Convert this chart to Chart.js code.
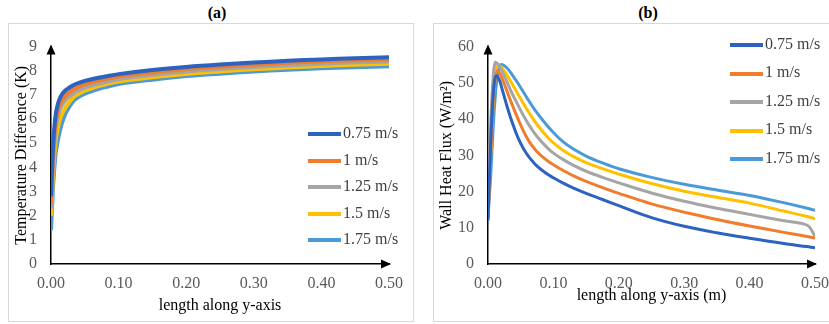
<!DOCTYPE html>
<html>
<head>
<meta charset="utf-8">
<script src="https://cdn.jsdelivr.net/npm/chart.js@4.4.1/dist/chart.umd.min.js"></script>
<style>
  body { margin: 0; width: 829px; height: 324px; overflow: hidden; background: #fff; position: relative; font-family: "Liberation Serif", "DejaVu Serif", serif; }
  .panel { position: absolute; top: 23px; height: 299px; border: 1px solid #d9d9d9; box-sizing: border-box; }
  .ptitle { position: absolute; top: 4px; font-weight: bold; font-size: 16px; color: #000; transform: translateX(-50%); font-family: "Liberation Serif", serif; }
  canvas { position: absolute; top: 23px; }
  .leg { position: absolute; font-size: 16px; color: #404040; white-space: nowrap; line-height: 16px; }
  .leg span { display: inline-block; width: 33px; height: 4px; vertical-align: middle; margin-right: 2px; }
</style>
</head>
<body>
<div class="panel" style="left:8px;width:406px;"></div>
<div class="panel" style="left:433px;width:420px;"></div>
<div class="ptitle" style="left:217px;">(a)</div>
<div class="ptitle" style="left:648px;">(b)</div>
<canvas id="chartA" width="405" height="300" style="left:8px;"></canvas>
<canvas id="chartB" width="410" height="300" style="left:433px;"></canvas>
<div id="legendA"></div>
<div id="legendB"></div>
<script>
var seriesNames = ['0.75 m/s', '1 m/s', '1.25 m/s', '1.5 m/s', '1.75 m/s'];
var seriesColors = ['#2c62c0', '#f07c2c', '#a5a5a5', '#ffc000', '#4a9ad8'];
var xTicks = [0, 0.1, 0.2, 0.3, 0.4, 0.5];

// (a) temperature difference along the wall
var xA = [0, 0.002, 0.004, 0.007, 0.01, 0.013, 0.017, 0.022, 0.027, 0.035, 0.05, 0.065, 0.08, 0.1, 0.15, 0.2, 0.25, 0.3, 0.35, 0.4, 0.45, 0.5];
var tempA_075 = [2.8, 4.2, 5.3, 6.2, 6.6, 6.85, 7.05, 7.2, 7.3, 7.43, 7.58, 7.68, 7.76, 7.86, 8.03, 8.16, 8.26, 8.34, 8.41, 8.47, 8.52, 8.56];
var tempA_100 = [2.5, 3.9, 5.0, 5.9, 6.35, 6.6, 6.8, 6.98, 7.1, 7.26, 7.45, 7.56, 7.65, 7.76, 7.93, 8.07, 8.17, 8.25, 8.33, 8.39, 8.44, 8.48];
var tempA_125 = [2.3, 3.5, 4.6, 5.6, 6.1, 6.4, 6.6, 6.8, 6.93, 7.1, 7.3, 7.43, 7.53, 7.65, 7.83, 7.97, 8.07, 8.16, 8.23, 8.29, 8.35, 8.38];
var tempA_150 = [2.0, 3.1, 4.1, 5.1, 5.6, 5.95, 6.25, 6.5, 6.7, 6.95, 7.18, 7.32, 7.43, 7.55, 7.73, 7.87, 7.97, 8.06, 8.13, 8.2, 8.25, 8.29];
var tempA_175 = [1.4, 2.6, 3.6, 4.6, 5.1, 5.5, 5.9, 6.25, 6.5, 6.8, 7.05, 7.2, 7.32, 7.45, 7.63, 7.78, 7.88, 7.97, 8.04, 8.1, 8.15, 8.19];
var yTicksA = [0, 1, 2, 3, 4, 5, 6, 7, 8, 9];

// (b) wall heat flux
var xB = [0, 0.004, 0.008, 0.011, 0.014, 0.018, 0.022, 0.028, 0.036, 0.046, 0.055, 0.064, 0.075, 0.09, 0.1, 0.115, 0.13, 0.15, 0.175, 0.2, 0.25, 0.3, 0.35, 0.4, 0.45, 0.488, 0.5];
var fluxB_075 = [12, 33, 47, 51.5, 51.9, 50.5, 48, 44.2, 39.6, 34.8, 31.6, 29.2, 27.0, 24.9, 23.8, 22.3, 21.0, 19.5, 17.8, 16.1, 12.8, 10.4, 8.6, 7.1, 5.7, 4.8, 4.5];
var fluxB_100 = [12.5, 30, 45, 51, 53.2, 52.6, 51, 48.2, 44.4, 40.0, 36.4, 33.5, 31.0, 28.6, 27.4, 25.8, 24.4, 22.8, 21.1, 19.5, 16.6, 14.3, 12.3, 10.5, 8.8, 7.6, 7.2];
var fluxB_125 = [13, 38, 52, 55.6, 55.4, 54.4, 53, 50.6, 47.4, 43.8, 40.7, 38.0, 35.2, 32.2, 30.6, 28.8, 27.3, 25.6, 23.9, 22.4, 19.6, 17.3, 15.4, 13.7, 12.0, 10.7, 7.7];
var fluxB_150 = [13, 30, 45, 52, 54.5, 54.7, 54.0, 52.4, 50.0, 46.8, 44.0, 41.4, 38.5, 35.2, 33.4, 31.3, 29.7, 28.0, 26.3, 24.8, 22.2, 20.1, 18.4, 16.8, 14.7, 13.1, 12.5];
var fluxB_175 = [13, 24, 38, 46, 51.5, 54.7, 55, 54.3, 52.5, 49.8, 47.2, 44.6, 41.7, 38.3, 36.3, 33.7, 31.8, 29.8, 27.9, 26.3, 23.9, 22.0, 20.4, 18.9, 17.0, 15.4, 14.8];
var yTicksB = [0, 10, 20, 30, 40, 50, 60];

function toPoints(xs, ys) {
    return xs.map(function (x, i) { return { x: x, y: ys[i] }; });
}

// arrow heads at the ends of both axes
var axisArrows = {
    id: 'axisArrows',
    afterDraw: function (chart) {
        var ctx = chart.ctx;
        var a = chart.chartArea;
        ctx.save();
        ctx.fillStyle = '#000';
        ctx.beginPath();
        ctx.moveTo(a.left, a.top - 2);
        ctx.lineTo(a.left - 4.5, a.top + 8);
        ctx.lineTo(a.left + 4.5, a.top + 8);
        ctx.closePath();
        ctx.fill();
        ctx.beginPath();
        ctx.moveTo(a.right + 2, a.bottom);
        ctx.lineTo(a.right - 8, a.bottom - 4.5);
        ctx.lineTo(a.right - 8, a.bottom + 4.5);
        ctx.closePath();
        ctx.fill();
        ctx.restore();
    }
};

function makeChart(id, xs, seriesList, yTicks, yTitle, xTitle, opts) {
    var datasets = seriesList.map(function (ys, i) {
        return {
            label: seriesNames[i],
            data: toPoints(xs, ys),
            borderColor: seriesColors[i],
            backgroundColor: seriesColors[i],
            borderWidth: opts.lineWidth,
            pointRadius: 0,
            tension: 0.35,
            borderJoinStyle: 'round',
            fill: false
        };
    });
    var tickFont = { family: 'Liberation Serif', size: 16 };
    var titleFont = { family: 'Liberation Serif', size: 16 };
    return new Chart(document.getElementById(id), {
        type: 'line',
        data: { datasets: datasets },
        plugins: [axisArrows],
        options: {
            responsive: false,
            animation: false,
            devicePixelRatio: 1,
            layout: { padding: { left: 0, right: opts.padRight, top: opts.padTop, bottom: 0 } },
            plugins: { legend: { display: false }, tooltip: { enabled: false } },
            scales: {
                x: {
                    type: 'linear',
                    min: 0,
                    max: 0.5,
                    afterBuildTicks: function (s) { s.ticks = xTicks.map(function (v) { return { value: v }; }); },
                    afterFit: function (s) { s.height = 59; },
                    grid: { display: false, drawTicks: false },
                    border: { display: true, color: '#000', width: 1.5 },
                    ticks: { color: '#595959', font: tickFont, padding: 10, maxRotation: 0,
                        callback: function (v) { return Number(v).toFixed(2); } },
                    title: { display: true, text: xTitle, color: '#000', font: titleFont, padding: { top: opts.xTitlePad, bottom: opts.xTitlePad } }
                },
                y: {
                    type: 'linear',
                    min: 0,
                    max: yTicks[yTicks.length - 1],
                    afterBuildTicks: function (s) { s.ticks = yTicks.map(function (v) { return { value: v }; }); },
                    afterFit: function (s) { s.width = opts.yWidth; },
                    grid: { display: false, drawTicks: false },
                    border: { display: true, color: '#000', width: 1.5 },
                    ticks: { color: '#595959', font: tickFont, padding: 14 },
                    title: { display: true, text: yTitle, color: '#000', font: titleFont, padding: { top: 4, bottom: 4 } }
                }
            }
        }
    });
}

makeChart('chartA', xA, [tempA_075, tempA_100, tempA_125, tempA_150, tempA_175], yTicksA,
    'Temperature Difference (K)', 'length along y-axis',
    { lineWidth: 4, padRight: 23, padTop: 13, yWidth: 43, xTitlePad: 8 });

makeChart('chartB', xB, [fluxB_075, fluxB_100, fluxB_125, fluxB_150, fluxB_175], yTicksB,
    'Wall Heat Flux (W/m\u00B2)', 'length along y-axis (m)',
    { lineWidth: 3, padRight: 28, padTop: 15, yWidth: 55, xTitlePad: 18 });

function buildLegend(id, left, top, step) {
    var box = document.getElementById(id);
    seriesNames.forEach(function (name, i) {
        var d = document.createElement('div');
        d.className = 'leg';
        d.style.left = left + 'px';
        d.style.top = (top + i * step - 8) + 'px';
        d.innerHTML = '<span style="background:' + seriesColors[i] + '"></span>' + name;
        box.appendChild(d);
    });
}
buildLegend('legendA', 308, 133, 26.5);
buildLegend('legendB', 730, 44, 28.4);
</script>
</body>
</html>
